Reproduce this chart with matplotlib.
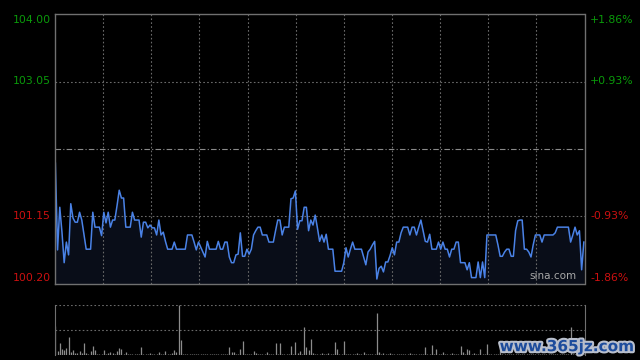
import numpy as np
import matplotlib
matplotlib.use("Agg")
import matplotlib.pyplot as plt
import matplotlib.patheffects as pe

# one trading day, minute prices
prices = [
    101.90, 100.68, 101.28, 100.93, 100.50, 100.79, 100.61, 101.33, 101.13, 101.07,
    101.07, 101.21, 101.10, 100.90, 100.69, 100.69, 100.69, 101.21, 101.00, 101.00,
    101.00, 100.88, 101.21, 101.06, 101.21, 101.00, 101.10, 101.10, 101.30, 101.52,
    101.41, 101.41, 101.00, 101.00, 101.00, 101.21, 101.10, 101.10, 101.10, 100.86,
    101.07, 101.07, 100.99, 101.03, 100.99, 100.99, 100.89, 101.10, 100.89, 100.93,
    100.80, 100.69, 100.69, 100.69, 100.79, 100.69, 100.69, 100.69, 100.69, 100.69,
    100.89, 100.89, 100.89, 100.79, 100.68, 100.79, 100.72, 100.65, 100.58, 100.80,
    100.69, 100.69, 100.69, 100.69, 100.80, 100.69, 100.69, 100.79, 100.79, 100.58,
    100.50, 100.50, 100.61, 100.62, 100.92, 100.59, 100.59, 100.69, 100.62, 100.69,
    100.89, 100.95, 101.00, 101.00, 100.89, 100.89, 100.89, 100.79, 100.79, 100.79,
    100.95, 101.10, 101.10, 100.89, 101.00, 101.00, 101.00, 101.40, 101.41, 101.51,
    100.97, 101.09, 101.09, 101.28, 101.28, 100.95, 101.10, 101.03, 101.17, 100.99,
    100.80, 100.89, 100.79, 100.90, 100.69, 100.69, 100.69, 100.38, 100.38, 100.38,
    100.38, 100.50, 100.71, 100.58, 100.69, 100.79, 100.69, 100.69, 100.69, 100.69,
    100.58, 100.47, 100.65, 100.69, 100.75, 100.80, 100.27, 100.42, 100.45, 100.37,
    100.51, 100.51, 100.60, 100.71, 100.61, 100.79, 100.79, 100.92, 101.00, 101.00,
    101.00, 100.89, 101.00, 101.00, 100.89, 101.00, 101.10, 100.95, 100.80, 100.79,
    100.90, 100.69, 100.69, 100.69, 100.79, 100.69, 100.79, 100.69, 100.69, 100.58,
    100.69, 100.69, 100.79, 100.79, 100.50, 100.50, 100.50, 100.40, 100.50, 100.29,
    100.29, 100.29, 100.51, 100.29, 100.51, 100.29, 100.89, 100.89, 100.89, 100.89,
    100.89, 100.75, 100.59, 100.59, 100.65, 100.69, 100.69, 100.59, 100.59, 100.95,
    101.09, 101.10, 101.10, 100.69, 100.69, 100.65, 100.58, 100.75, 100.89, 100.89,
    100.89, 100.79, 100.89, 100.89, 100.89, 100.89, 100.89, 100.92, 101.00, 101.00,
    101.00, 101.00, 101.00, 101.00, 100.79, 100.89, 101.00, 100.89, 100.95, 100.40,
    100.79,
]

volumes = [
    290, 40, 120, 60, 50, 70, 180, 30, 50, 20,
    20, 40, 20, 120, 20, 10, 40, 90, 50, 10,
    10, 10, 50, 10, 20, 30, 20, 10, 40, 70,
    60, 10, 30, 10, 10, 10, 10, 10, 10, 80,
    10, 10, 10, 20, 10, 10, 10, 30, 10, 10,
    40, 10, 10, 20, 50, 30, 500, 150, 10, 10,
    10, 5, 10, 10, 5, 10, 10, 5, 10, 10,
    10, 5, 10, 10, 5, 10, 10, 10, 10, 80,
    30, 30, 10, 10, 60, 140, 10, 10, 10, 10,
    40, 20, 10, 10, 10, 10, 30, 10, 10, 10,
    120, 10, 120, 10, 10, 10, 10, 90, 10, 130,
    20, 40, 10, 280, 80, 50, 160, 20, 10, 10,
    10, 20, 10, 10, 20, 10, 10, 130, 60, 10,
    10, 140, 10, 10, 10, 10, 10, 20, 10, 10,
    30, 10, 10, 10, 10, 10, 420, 30, 10, 20,
    10, 10, 20, 10, 10, 10, 10, 10, 10, 10,
    10, 20, 10, 10, 10, 10, 10, 10, 80, 10,
    10, 100, 10, 60, 10, 10, 30, 10, 10, 10,
    20, 10, 10, 10, 90, 30, 10, 60, 50, 10,
    20, 10, 10, 60, 10, 10, 110, 10, 10, 10,
    10, 10, 130, 10, 10, 10, 10, 10, 10, 10,
    10, 10, 10, 10, 10, 10, 10, 10, 10, 10,
    10, 10, 10, 10, 10, 10, 10, 10, 10, 10,
    10, 10, 10, 10, 280, 10, 10, 10, 10, 10,
    10,
]

prev_close = 102.10
left_ticks = [100.20, 101.15, 102.10, 103.05, 104.00]
right_labels = ["-1.86%", "-0.93%", "", "+0.93%", "+1.86%"]

x = np.arange(len(prices))
n_slots = 241

fig = plt.figure(figsize=(6.4, 3.6), dpi=100, facecolor="black")
ax = fig.add_axes([54.7 / 640, 1 - 284 / 360, 529.8 / 640, 270 / 360])
axv = fig.add_axes([54.7 / 640, 1 - 355 / 360, 529.8 / 640, 50.3 / 360])

grid_c = "#6a6a6a"
frame_c = "#707070"

# price panel
ax.set_facecolor("black")
ax.set_xlim(-0.3, n_slots - 0.7)
ax.set_ylim(left_ticks[0], left_ticks[-1])
for i in range(1, 11):
    ax.axvline((n_slots - 1) * i / 11, color=grid_c, lw=0.8, ls=(0, (1.5, 2)))
for v in [left_ticks[1], left_ticks[3]]:
    ax.axhline(v, color=grid_c, lw=0.8, ls=(0, (1.5, 2)))
ax.axhline(prev_close, color="#8a8a8a", lw=0.8, ls=(0, (5, 2, 1, 2)))

ax.fill_between(x, prices, left_ticks[0], color="#090d18", lw=0)
ax.plot(x, prices, color="#4a82e6", lw=1.1)

for s in ax.spines.values():
    s.set_color(frame_c)
    s.set_linewidth(1)
ax.set_xticks([])
ax.set_yticks([])

up_c = "#0a9a0a"
dn_c = "#cc1010"
lab_font = dict(fontsize=7.8, family="Liberation Sans Narrow")
for v, r in zip(left_ticks, right_labels):
    if v == prev_close:
        continue
    col = up_c if v > prev_close else dn_c
    va = "center"
    off = 0
    if v == left_ticks[-1]:
        va = "top"
        off = -1
    elif v == left_ticks[0]:
        va = "bottom"
        off = 1
    ax.annotate(f"{v:.2f}", xy=(0, v), xycoords=("axes fraction", "data"),
                xytext=(-3, off), textcoords="offset points", ha="right", va=va,
                color=col, **lab_font)
    ax.annotate(r, xy=(1, v), xycoords=("axes fraction", "data"),
                xytext=(4, off), textcoords="offset points", ha="left", va=va,
                color=col, **lab_font)

ax.text(0.985, 0.012, "sina.com", transform=ax.transAxes, ha="right", va="bottom",
        color="#a8a8a8", fontsize=7.5)

# volume panel
axv.set_facecolor("black")
axv.set_xlim(-0.3, n_slots - 0.7)
axv.set_ylim(0, max(volumes))
axv.vlines(x, 0, volumes, color="#8c8c8c", lw=0.9)
axv.axhline(max(volumes), color=grid_c, lw=0.8, ls=(0, (1.5, 2)))
axv.axhline(max(volumes) / 2, color=grid_c, lw=0.8, ls=(0, (1.5, 2)))
for k in ["top", "bottom"]:
    axv.spines[k].set_visible(False)
for k in ["left", "right"]:
    axv.spines[k].set_color(frame_c)
axv.set_xticks([])
axv.set_yticks([])

fig.text(0.99, 0.037, "www.365jz.com", ha="right", va="center", fontsize=11,
         fontweight="bold", color="#1d4c9c", family="DejaVu Sans",
         path_effects=[pe.withStroke(linewidth=3, foreground="#b9bfcc")])

fig.savefig("out.png", dpi=100, facecolor="black")
